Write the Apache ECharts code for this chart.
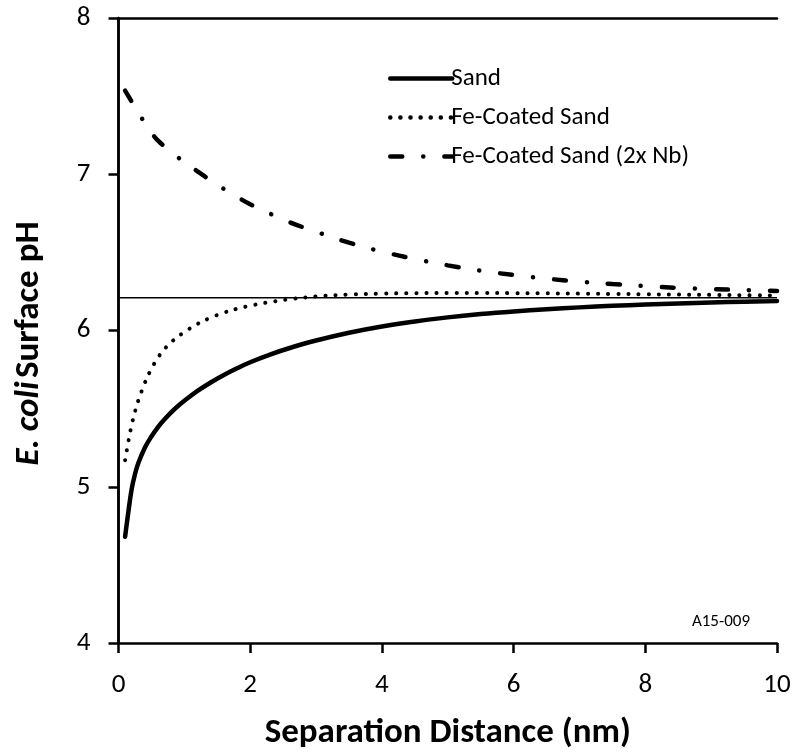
<!DOCTYPE html>
<html>
<head>
<meta charset="utf-8">
<script src="https://cdn.jsdelivr.net/npm/echarts@6/dist/echarts.min.js"></script>
<style>
html,body{margin:0;padding:0;background:#fff;}
#chart{width:798px;height:756px;}
</style>
</head>
<body>
<div id="chart"></div>
<script>
// ---- data ----
const distance = [0.1,0.15,0.2,0.25,0.3,0.4,0.5,0.6,0.7,0.8,0.9,1.0,1.2,1.4,1.6,1.8,2.0,2.3,2.6,3.0,3.5,4.0,4.5,5.0,5.5,6.0,6.5,7.0,7.5,8.0,8.5,9.0,9.5,10.0];
const sandPH = [4.68,4.84,4.985,5.08,5.15,5.25,5.322,5.382,5.432,5.476,5.515,5.55,5.613,5.667,5.715,5.758,5.797,5.846,5.888,5.936,5.986,6.026,6.058,6.084,6.105,6.122,6.136,6.148,6.158,6.166,6.173,6.179,6.184,6.188];
const feSandPH = [5.17,5.29,5.395,5.48,5.55,5.665,5.755,5.827,5.882,5.925,5.96,5.99,6.042,6.082,6.114,6.139,6.159,6.182,6.2,6.218,6.23,6.236,6.239,6.24,6.24,6.239,6.238,6.236,6.234,6.232,6.23,6.228,6.226,6.224];
const feSand2xPH = [7.535,7.50,7.465,7.43,7.395,7.328,7.265,7.215,7.178,7.143,7.109,7.077,7.018,6.961,6.906,6.855,6.808,6.748,6.693,6.632,6.562,6.505,6.458,6.417,6.383,6.355,6.332,6.313,6.297,6.284,6.273,6.265,6.259,6.253];
const refX = [0, 10];
const refPH = [6.21, 6.21];
const seriesNames = ['Sand', 'Fe-Coated Sand', 'Fe-Coated Sand (2x Nb)'];
const xTicks = [0, 2, 4, 6, 8, 10];
const yTicks = [4, 5, 6, 7, 8];
const xTitle = 'Separation Distance (nm)';
const annotation = 'A15-009';

const FONT = 'Carlito, Lato, sans-serif';
const pair = (xs, ys) => xs.map((x, i) => [x, ys[i]]);

const chart = echarts.init(document.getElementById('chart'), null, {renderer: 'canvas'});
const axisLine = {show: true, lineStyle: {color: '#000', width: 2.5}};
const option = {
  animation: false,
  backgroundColor: '#fff',
  color: ['#000', '#000', '#000', '#000'],
  grid: {left: 118.5, right: 21, top: 18, bottom: 108.5, containLabel: false},
  xAxis: [{
    type: 'value', min: xTicks[0], max: xTicks[xTicks.length - 1], interval: 2,
    axisLine: axisLine,
    axisTick: {show: true, inside: false, length: 10, lineStyle: {color: '#000', width: 2.5}},
    axisLabel: {color: '#000', fontFamily: FONT, fontSize: 27, margin: 29},
    splitLine: {show: false},
    name: xTitle, nameLocation: 'middle', nameGap: 73,
    nameTextStyle: {color: '#000', fontFamily: FONT, fontSize: 35, fontWeight: 'bold'}
  }, {
    type: 'value', position: 'top', min: 0, max: 10,
    axisLine: axisLine, axisTick: {show: false}, axisLabel: {show: false}, splitLine: {show: false}
  }],
  yAxis: [{
    type: 'value', min: yTicks[0], max: yTicks[yTicks.length - 1], interval: 1,
    axisLine: axisLine,
    axisTick: {show: true, inside: false, length: 10, lineStyle: {color: '#000', width: 2.5}},
    axisLabel: {color: '#000', fontFamily: FONT, fontSize: 27, margin: 28},
    splitLine: {show: false},
    name: '{bi|E. coli} {b|Surface pH}', nameLocation: 'middle', nameGap: 72, nameRotate: 90,
    nameTextStyle: {
      padding: [0, 26, 0, 0],
      rich: {
        bi: {fontFamily: FONT, fontSize: 35, fontWeight: 'bold', fontStyle: 'italic', color: '#000'},
        b: {fontFamily: FONT, fontSize: 35, fontWeight: 'bold', color: '#000'}
      }
    }
  }, {
    type: 'value', position: 'right', min: 4, max: 8,
    axisLine: axisLine, axisTick: {show: false}, axisLabel: {show: false}, splitLine: {show: false}
  }],
  legend: {
    data: seriesNames,
    orient: 'vertical', left: 383, top: 61,
    itemWidth: 62, itemHeight: 14, itemGap: 14,
    itemStyle: {opacity: 0},
    lineStyle: {width: 4.5},
    textStyle: {color: '#000', fontFamily: FONT, fontSize: 25, padding: [0, 0, 0, -6]},
    selectedMode: false
  },
  graphic: [{
    type: 'text', right: 48, top: 613,
    style: {text: annotation, fill: '#000', font: '17px ' + FONT}
  }],
  series: [
    {
      name: 'ref', type: 'line', data: pair(refX, refPH), symbol: 'none', silent: true,
      lineStyle: {color: '#000', width: 1.5}, z: 1
    },
    {
      name: seriesNames[0], type: 'line', data: pair(distance, sandPH), symbol: 'none',
      smooth: 0.4, itemStyle: {color: '#000'},
      lineStyle: {color: '#000', width: 4.5, cap: 'round'}, z: 3
    },
    {
      name: seriesNames[1], type: 'line', data: pair(distance, feSandPH), symbol: 'none',
      smooth: 0.4, itemStyle: {color: '#000'},
      lineStyle: {color: '#000', width: 4, type: [0.1, 10], cap: 'round'}, z: 3
    },
    {
      name: seriesNames[2], type: 'line', data: pair(distance, feSand2xPH), symbol: 'none',
      smooth: 0.4, itemStyle: {color: '#000'},
      lineStyle: {color: '#000', width: 4.5, type: [12, 21, 0.1, 21], cap: 'round'}, z: 3
    }
  ]
};
chart.setOption(option);
</script>
</body>
</html>
